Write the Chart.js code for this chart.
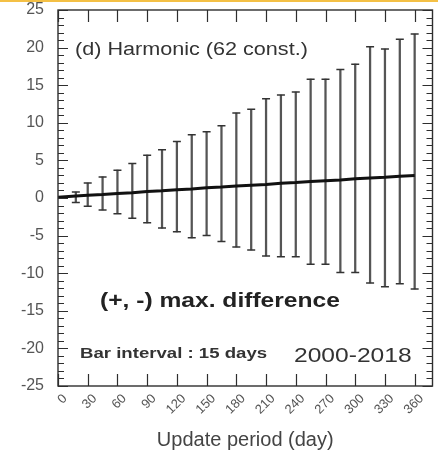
<!DOCTYPE html>
<html><head><meta charset="utf-8">
<script src="https://cdn.jsdelivr.net/npm/chart.js@4/dist/chart.umd.min.js"></script>
<style>
html,body{margin:0;padding:0;background:#fff;}
#wrap{position:relative;width:438px;height:454px;overflow:hidden;}
#strip{position:absolute;left:0;top:0;width:438px;height:2px;background:#f4c045;}
</style></head><body>
<div id="wrap"><canvas id="c" width="438" height="454"></canvas><div id="strip"></div></div>
<script>
// ---- data ----
const days      = [18, 30, 45, 60, 75, 90, 105, 120, 135, 150, 165, 180, 195, 210, 225, 240, 255, 270, 285, 300, 315, 330, 345, 360];
const upperDiff = [0.8, 2.0, 2.8, 3.7, 4.6, 5.7, 6.4, 7.5, 8.4, 8.8, 9.6, 11.3, 11.8, 13.2, 13.7, 14.1, 15.8, 15.8, 17.1, 17.8, 20.1, 19.8, 21.1, 21.8];
const lowerDiff = [-0.6, -1.1, -1.6, -2.1, -2.7, -3.3, -4.0, -4.5, -5.3, -5.0, -5.8, -6.5, -6.9, -7.7, -7.8, -7.8, -8.8, -8.8, -9.9, -9.9, -11.3, -11.8, -11.4, -12.1];
const meanDays  = [0, 18, 30, 45, 60, 75, 90, 105, 120, 135, 150, 165, 180, 195, 210, 225, 240, 255, 270, 285, 300, 315, 330, 345, 360];
const meanDiff  = [0.1, 0.25, 0.35, 0.45, 0.6, 0.7, 0.85, 0.95, 1.1, 1.2, 1.35, 1.45, 1.6, 1.7, 1.8, 1.95, 2.05, 2.2, 2.3, 2.4, 2.55, 2.65, 2.75, 2.9, 3.0];
const xTicks    = [0, 30, 60, 90, 120, 150, 180, 210, 240, 270, 300, 330, 360];
const yTicks    = [-25, -20, -15, -10, -5, 0, 5, 10, 15, 20, 25];
const panelTitle = '(d) Harmonic (62 const.)';
const noteMain   = '(+, -) max. difference';
const noteBar    = 'Bar interval : 15 days';
const notePeriod = '2000-2018';
const xTitle     = 'Update period (day)';

const INK = '#2e2e2e';

function stretched(ctx, text, x, y, font, sx, color) {
  ctx.save();
  ctx.font = font;
  ctx.fillStyle = color;
  ctx.textBaseline = 'alphabetic';
  ctx.textAlign = 'left';
  ctx.translate(x, y);
  ctx.scale(sx, 1);
  ctx.fillText(text, 0, 0);
  ctx.restore();
}

const framePlugin = {
  id: 'frame',
  afterDraw(chart) {
    const {ctx, chartArea: a, scales} = chart;
    const xs = scales.x, ys = scales.y;
    ctx.save();
    ctx.strokeStyle = INK;
    ctx.lineWidth = 1.4;
    ctx.strokeRect(a.left, a.top, a.right - a.left, a.bottom - a.top);
    ctx.lineWidth = 1.2;
    ctx.beginPath();
    for (let v = ys.min; v <= ys.max; v++) {
      const py = Math.round(ys.getPixelForValue(v)) + 0.5;
      const len = (v % 5 === 0) ? 10 : 6;
      ctx.moveTo(a.left, py); ctx.lineTo(a.left + len, py);
      ctx.moveTo(a.right, py); ctx.lineTo(a.right - len, py);
    }
    xTicks.forEach(v => {
      const px = Math.round(xs.getPixelForValue(v)) + 0.5;
      ctx.moveTo(px, a.bottom); ctx.lineTo(px, a.bottom - 12);
      ctx.moveTo(px, a.top); ctx.lineTo(px, a.top + 12);
    });
    ctx.stroke();
    ctx.restore();

    stretched(ctx, panelTitle, 75, 55, '18px "Liberation Sans", Arial, sans-serif', 1.2, '#333');
    stretched(ctx, noteMain, 100, 307, 'bold 20.5px "Liberation Sans", Arial, sans-serif', 1.2, '#222');
    stretched(ctx, noteBar, 80, 357.5, 'bold 15.5px "Liberation Sans", Arial, sans-serif', 1.2, '#333');
    stretched(ctx, notePeriod, 294, 362, '20.5px "Liberation Sans", Arial, sans-serif', 1.2, '#333');
  }
};

new Chart(document.getElementById('c'), {
  type: 'bar',
  data: {
    datasets: [
      {
        type: 'bar',
        data: days.map((d, i) => ({x: d, y: [lowerDiff[i], upperDiff[i]]})),
        backgroundColor: '#555',
        borderWidth: 0,
        barThickness: 1.6,
        order: 3
      },
      {
        type: 'line',
        data: days.map((d, i) => ({x: d, y: upperDiff[i]})),
        showLine: false,
        pointStyle: 'line',
        pointRadius: 4,
        pointBorderWidth: 1.5,
        pointBorderColor: '#333',
        order: 2
      },
      {
        type: 'line',
        data: days.map((d, i) => ({x: d, y: lowerDiff[i]})),
        showLine: false,
        pointStyle: 'line',
        pointRadius: 4,
        pointBorderWidth: 1.5,
        pointBorderColor: '#333',
        order: 2
      },
      {
        type: 'line',
        data: meanDays.map((d, i) => ({x: d, y: meanDiff[i]})),
        borderColor: '#111',
        borderWidth: 3,
        pointRadius: 0,
        tension: 0,
        order: 1
      }
    ]
  },
  options: {
    responsive: false,
    animation: false,
    layout: {padding: {top: 10, left: 0, right: 0, bottom: 0}},
    plugins: {legend: {display: false}, tooltip: {enabled: false}},
    scales: {
      x: {
        type: 'linear',
        min: 0,
        max: 378,
        offset: false,
        grid: {display: false, offset: false},
        border: {display: false},
        afterBuildTicks: s => { s.ticks = xTicks.map(v => ({value: v})); },
        afterFit: s => { s.height = 68; },
        ticks: {
          minRotation: 45,
          maxRotation: 45,
          autoSkip: false,
          padding: -3,
          labelOffset: 7,
          color: '#555',
          font: {family: '"Liberation Sans", Arial, sans-serif', size: 13}
        },
        title: {
          display: true,
          text: xTitle,
          color: '#444',
          padding: {top: 0, bottom: 2},
          font: {family: '"Liberation Sans", Arial, sans-serif', size: 20}
        }
      },
      y: {
        type: 'linear',
        min: -25,
        max: 25,
        grid: {display: false},
        border: {display: false},
        afterBuildTicks: s => { s.ticks = yTicks.map(v => ({value: v})); },
        afterFit: s => { s.width = 58; s.paddingTop = 0; s.paddingBottom = 0; },
        ticks: {
          padding: 6,
          color: '#555',
          font: {family: '"Liberation Sans", Arial, sans-serif', size: 16}
        }
      }
    }
  },
  plugins: [framePlugin]
});
</script>
</body></html>
